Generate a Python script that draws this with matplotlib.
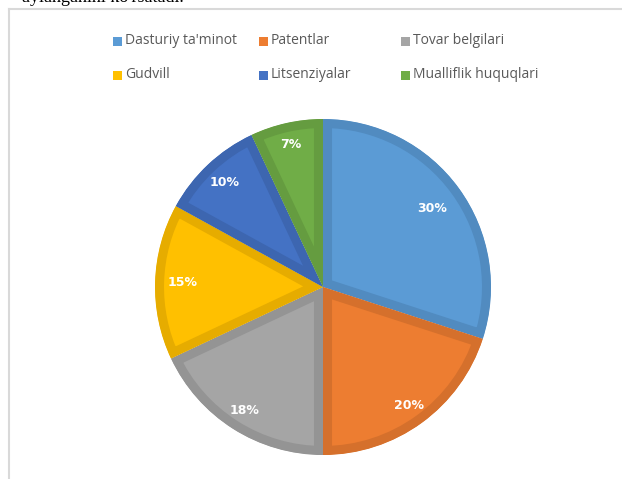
import matplotlib
matplotlib.use("Agg")
import matplotlib.pyplot as plt
from matplotlib.patches import Rectangle
from matplotlib.lines import Line2D

categories = ["Dasturiy ta'minot", "Patentlar", "Tovar belgilari",
              "Gudvill", "Litsenziyalar", "Mualliflik huquqlari"]
values = [30, 20, 18, 15, 10, 7]
fill_colors = ["#5B9BD5", "#ED7D31", "#A5A5A5", "#FFC000", "#4472C4", "#70AD47"]
edge_colors = ["#518BC0", "#D5702C", "#949494", "#E6AC00", "#3D66B0", "#659C40"]

W, H = 622, 479
fig = plt.figure(figsize=(W / 100, H / 100), dpi=100)

# top cropped text line from the surrounding document
fig.text(22 / W, 1 - 2 / H, "aylanganini ko'rsatadi.", family="Liberation Serif",
         fontsize=13, color="black", ha="left", va="baseline")

# chart frame (left and top edges visible)
fig.add_artist(Line2D([8.5 / W, 8.5 / W], [0, 1 - 8.5 / H], color="#D9D9D9", lw=1.5))
fig.add_artist(Line2D([8.5 / W, 1.0], [1 - 8.5 / H, 1 - 8.5 / H], color="#D9D9D9", lw=1.5))

cx, cy, r = 323, 479 - 287, 168
ax = fig.add_axes([(cx - r) / W, (cy - r) / H, 2 * r / W, 2 * r / H])
wedges, texts, autotexts = ax.pie(
    values, startangle=90, counterclock=False, radius=1.0,
    autopct=lambda p: f"{p:.0f}%", pctdistance=0.87,
    textprops=dict(color="white", fontsize=9, fontweight="bold", family="DejaVu Sans"),
    colors=fill_colors)
for w, ec in zip(wedges, edge_colors):
    w.set_edgecolor(ec)
    w.set_linewidth(13)
    w.set_joinstyle("miter")
    w.set_clip_on(True)
    w.set_clip_path(w.get_path(), w.get_transform())
# Excel "best fit" label placement: slightly different radial distance per slice
label_dist = [0.80, 0.87, 0.87, 0.835, 0.855, 0.87]
for t, d in zip(autotexts, label_dist):
    x0, y0 = t.get_position()
    t.set_position((x0 * d / 0.87, y0 * d / 0.87))
ax.set_xlim(-1, 1)
ax.set_ylim(-1, 1)
ax.set_aspect("equal")
ax.axis("off")

# legend: 2 rows x 3 columns
legend_cols = [113, 259, 401]
legend_rows = [41, 75]
for i, (name, col) in enumerate(zip(categories, fill_colors)):
    row, c = divmod(i, 3)
    x = legend_cols[c]
    y = legend_rows[row]
    fig.add_artist(Rectangle((x / W, 1 - (y + 4.5) / H), 9 / W, 9 / H,
                             facecolor=col, edgecolor="none"))
    fig.text((x + 12) / W, 1 - y / H, name, fontsize=10, color="#595959",
             ha="left", va="center", family="Open Sans")

fig.savefig("out.png", dpi=100)
